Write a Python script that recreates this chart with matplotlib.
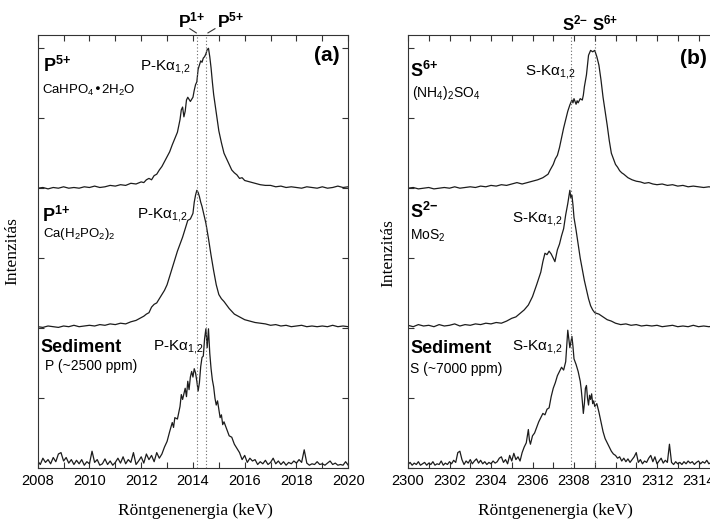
import matplotlib
matplotlib.use("Agg")
import matplotlib.pyplot as plt
from matplotlib.ticker import MultipleLocator

# --- adatok (leolvasva az ábráról) ---
# (a) panel: P-K alfa spektrumok, (energia keV, eltolt intenzitás)
p5_spektrum = [
    (2008.0, 4.00), (2008.2, 4.01), (2008.4, 3.99), (2008.6, 4.01), (2008.8, 4.00),
    (2009.0, 4.02), (2009.2, 4.00), (2009.4, 4.01), (2009.6, 4.00), (2009.8, 4.02),
    (2010.0, 4.01), (2010.2, 4.03), (2010.4, 4.01), (2010.6, 4.02), (2010.8, 4.04),
    (2011.0, 4.03), (2011.2, 4.05), (2011.4, 4.04), (2011.6, 4.07), (2011.8, 4.06),
    (2012.0, 4.09), (2012.1, 4.08), (2012.2, 4.12), (2012.3, 4.14), (2012.4, 4.12),
    (2012.5, 4.18), (2012.6, 4.20), (2012.7, 4.26), (2012.8, 4.31), (2012.9, 4.38),
    (2013.0, 4.45), (2013.1, 4.52), (2013.2, 4.62), (2013.3, 4.71), (2013.4, 4.80),
    (2013.5, 4.98), (2013.55, 5.12), (2013.6, 5.16), (2013.65, 5.02), (2013.7, 5.10),
    (2013.75, 5.26), (2013.8, 5.30), (2013.9, 5.24), (2014.0, 5.30), (2014.05, 5.40),
    (2014.1, 5.48), (2014.15, 5.52), (2014.2, 5.70), (2014.25, 5.76), (2014.3, 5.82),
    (2014.35, 5.80), (2014.4, 5.86), (2014.45, 5.88), (2014.5, 5.92), (2014.55, 5.98),
    (2014.6, 6.00), (2014.65, 5.88), (2014.7, 5.72), (2014.75, 5.52), (2014.8, 5.34),
    (2014.9, 5.08), (2015.0, 4.82), (2015.1, 4.65), (2015.2, 4.50), (2015.3, 4.42),
    (2015.4, 4.34), (2015.5, 4.26), (2015.6, 4.22), (2015.7, 4.19), (2015.8, 4.14),
    (2015.9, 4.15), (2016.0, 4.11), (2016.2, 4.09), (2016.4, 4.07), (2016.6, 4.05),
    (2016.8, 4.04), (2017.0, 4.04), (2017.2, 4.02), (2017.4, 4.03), (2017.6, 4.01),
    (2017.8, 4.02), (2018.0, 4.01), (2018.2, 4.00), (2018.4, 4.02), (2018.6, 4.01),
    (2018.8, 4.00), (2019.0, 4.02), (2019.2, 4.00), (2019.4, 4.01), (2019.6, 4.03),
    (2019.8, 4.01), (2020.0, 4.02),
]

p1_spektrum = [
    (2008.0, 2.02), (2008.2, 2.01), (2008.4, 2.03), (2008.6, 2.02), (2008.8, 2.01),
    (2009.0, 2.03), (2009.2, 2.02), (2009.4, 2.04), (2009.6, 2.02), (2009.8, 2.03),
    (2010.0, 2.04), (2010.2, 2.03), (2010.4, 2.05), (2010.6, 2.04), (2010.8, 2.06),
    (2011.0, 2.05), (2011.2, 2.07), (2011.4, 2.06), (2011.6, 2.09), (2011.8, 2.11),
    (2012.0, 2.15), (2012.1, 2.17), (2012.2, 2.20), (2012.3, 2.22), (2012.4, 2.30),
    (2012.5, 2.34), (2012.6, 2.36), (2012.7, 2.42), (2012.8, 2.48), (2012.9, 2.54),
    (2013.0, 2.62), (2013.1, 2.74), (2013.2, 2.86), (2013.3, 2.98), (2013.4, 3.10),
    (2013.5, 3.20), (2013.6, 3.30), (2013.7, 3.42), (2013.8, 3.54), (2013.9, 3.56),
    (2014.0, 3.64), (2014.05, 3.80), (2014.1, 3.90), (2014.15, 3.97), (2014.2, 3.94),
    (2014.25, 3.88), (2014.3, 3.80), (2014.35, 3.74), (2014.4, 3.66), (2014.5, 3.50),
    (2014.6, 3.28), (2014.7, 3.04), (2014.8, 2.82), (2014.9, 2.62), (2015.0, 2.48),
    (2015.1, 2.42), (2015.2, 2.38), (2015.3, 2.33), (2015.4, 2.28), (2015.5, 2.24),
    (2015.6, 2.20), (2015.8, 2.16), (2016.0, 2.12), (2016.2, 2.10), (2016.4, 2.08),
    (2016.6, 2.07), (2016.8, 2.06), (2017.0, 2.04), (2017.2, 2.05), (2017.4, 2.03),
    (2017.6, 2.04), (2017.8, 2.02), (2018.0, 2.03), (2018.2, 2.04), (2018.4, 2.02),
    (2018.6, 2.03), (2018.8, 2.02), (2019.0, 2.03), (2019.2, 2.02), (2019.4, 2.04),
    (2019.6, 2.02), (2019.8, 2.03), (2020.0, 2.02),
]

p_sediment = [
    (2008.0, 0.10), (2008.1, 0.05), (2008.2, 0.14), (2008.3, 0.08), (2008.4, 0.12),
    (2008.5, 0.06), (2008.6, 0.15), (2008.7, 0.09), (2008.8, 0.20), (2008.9, 0.22),
    (2009.0, 0.10), (2009.1, 0.15), (2009.2, 0.07), (2009.3, 0.12), (2009.4, 0.05),
    (2009.5, 0.11), (2009.6, 0.06), (2009.7, 0.12), (2009.8, 0.04), (2009.9, 0.09),
    (2010.0, 0.06), (2010.1, 0.24), (2010.2, 0.08), (2010.3, 0.12), (2010.4, 0.04),
    (2010.5, 0.06), (2010.6, 0.13), (2010.7, 0.05), (2010.8, 0.10), (2010.9, 0.04),
    (2011.0, 0.08), (2011.1, 0.14), (2011.2, 0.07), (2011.3, 0.16), (2011.4, 0.06),
    (2011.5, 0.12), (2011.6, 0.08), (2011.7, 0.22), (2011.8, 0.05), (2011.9, 0.10),
    (2012.0, 0.16), (2012.1, 0.07), (2012.2, 0.20), (2012.3, 0.12), (2012.4, 0.18),
    (2012.5, 0.09), (2012.6, 0.22), (2012.7, 0.14), (2012.8, 0.20), (2012.9, 0.30),
    (2013.0, 0.38), (2013.1, 0.52), (2013.2, 0.65), (2013.25, 0.58), (2013.3, 0.72),
    (2013.4, 0.70), (2013.5, 0.88), (2013.55, 1.05), (2013.6, 0.98), (2013.7, 1.14),
    (2013.75, 1.02), (2013.8, 1.24), (2013.85, 1.12), (2013.9, 1.30), (2013.95, 1.38),
    (2014.0, 1.30), (2014.05, 1.42), (2014.1, 1.36), (2014.15, 1.24), (2014.2, 1.10),
    (2014.25, 1.22), (2014.3, 1.45), (2014.35, 1.58), (2014.4, 1.60), (2014.45, 1.85),
    (2014.5, 1.99), (2014.55, 1.72), (2014.6, 1.99), (2014.65, 1.64), (2014.7, 1.42),
    (2014.75, 1.26), (2014.8, 1.16), (2014.85, 1.00), (2014.9, 0.90), (2014.95, 0.96),
    (2015.0, 0.84), (2015.05, 0.72), (2015.1, 0.76), (2015.15, 0.62), (2015.2, 0.66),
    (2015.3, 0.56), (2015.4, 0.46), (2015.5, 0.44), (2015.6, 0.34), (2015.7, 0.28),
    (2015.8, 0.22), (2015.9, 0.12), (2016.0, 0.18), (2016.1, 0.08), (2016.2, 0.14),
    (2016.3, 0.10), (2016.4, 0.12), (2016.5, 0.05), (2016.6, 0.09), (2016.7, 0.06),
    (2016.8, 0.11), (2016.9, 0.05), (2017.0, 0.08), (2017.1, 0.14), (2017.2, 0.06),
    (2017.3, 0.10), (2017.4, 0.05), (2017.5, 0.09), (2017.6, 0.04), (2017.7, 0.08),
    (2017.8, 0.06), (2017.9, 0.10), (2018.0, 0.07), (2018.1, 0.12), (2018.2, 0.08),
    (2018.3, 0.26), (2018.4, 0.07), (2018.5, 0.04), (2018.6, 0.06), (2018.7, 0.05),
    (2018.8, 0.09), (2018.9, 0.05), (2019.0, 0.06), (2019.1, 0.04), (2019.2, 0.07),
    (2019.3, 0.10), (2019.4, 0.05), (2019.5, 0.07), (2019.6, 0.04), (2019.7, 0.05),
    (2019.8, 0.04), (2019.9, 0.09), (2020.0, 0.04),
]

# (b) panel: S-K alfa spektrumok
s6_spektrum = [
    (2300.0, 4.00), (2300.25, 4.01), (2300.5, 3.99), (2300.75, 4.00), (2301.0, 4.01),
    (2301.25, 3.99), (2301.5, 4.00), (2301.75, 4.01), (2302.0, 4.00), (2302.25, 4.02),
    (2302.5, 4.00), (2302.75, 4.01), (2303.0, 4.02), (2303.25, 4.01), (2303.5, 4.03),
    (2303.75, 4.02), (2304.0, 4.04), (2304.25, 4.03), (2304.5, 4.05), (2304.75, 4.04),
    (2305.0, 4.06), (2305.25, 4.08), (2305.5, 4.06), (2305.75, 4.08), (2306.0, 4.10),
    (2306.25, 4.12), (2306.5, 4.15), (2306.75, 4.20), (2306.85, 4.26), (2307.0, 4.34),
    (2307.1, 4.42), (2307.2, 4.47), (2307.3, 4.58), (2307.4, 4.72), (2307.5, 4.86),
    (2307.6, 4.98), (2307.7, 5.10), (2307.8, 5.19), (2307.9, 5.26), (2307.95, 5.22),
    (2308.0, 5.28), (2308.1, 5.20), (2308.15, 5.25), (2308.2, 5.22), (2308.3, 5.28),
    (2308.4, 5.26), (2308.45, 5.33), (2308.5, 5.45), (2308.6, 5.62), (2308.7, 5.90),
    (2308.8, 5.97), (2308.9, 5.95), (2309.0, 5.97), (2309.1, 5.88), (2309.2, 5.76),
    (2309.3, 5.55), (2309.4, 5.30), (2309.5, 5.10), (2309.6, 4.90), (2309.7, 4.68),
    (2309.8, 4.50), (2309.9, 4.42), (2310.0, 4.34), (2310.1, 4.30), (2310.2, 4.25),
    (2310.3, 4.22), (2310.4, 4.20), (2310.6, 4.15), (2310.8, 4.12), (2311.0, 4.10),
    (2311.2, 4.09), (2311.4, 4.07), (2311.6, 4.08), (2311.8, 4.06), (2312.0, 4.05),
    (2312.25, 4.06), (2312.5, 4.04), (2312.75, 4.05), (2313.0, 4.03), (2313.25, 4.04),
    (2313.5, 4.02), (2313.75, 4.03), (2314.0, 4.02), (2314.25, 4.01), (2314.5, 4.02),
    (2314.75, 4.01), (2315.0, 4.01),
]

s2_spektrum = [
    (2300.0, 2.04), (2300.25, 2.02), (2300.5, 2.05), (2300.75, 2.03), (2301.0, 2.04),
    (2301.25, 2.02), (2301.5, 2.05), (2301.75, 2.03), (2302.0, 2.04), (2302.25, 2.06),
    (2302.5, 2.03), (2302.75, 2.05), (2303.0, 2.04), (2303.25, 2.06), (2303.5, 2.05),
    (2303.75, 2.07), (2304.0, 2.06), (2304.25, 2.08), (2304.5, 2.07), (2304.75, 2.10),
    (2305.0, 2.14), (2305.2, 2.16), (2305.4, 2.21), (2305.6, 2.26), (2305.8, 2.33),
    (2306.0, 2.45), (2306.2, 2.62), (2306.4, 2.80), (2306.5, 2.95), (2306.6, 3.07),
    (2306.7, 3.05), (2306.8, 3.10), (2306.9, 3.06), (2307.0, 3.00), (2307.08, 2.95),
    (2307.2, 3.12), (2307.3, 3.20), (2307.4, 3.32), (2307.5, 3.42), (2307.6, 3.62),
    (2307.7, 3.78), (2307.8, 3.97), (2307.85, 3.86), (2307.9, 3.90), (2307.95, 3.76),
    (2308.0, 3.58), (2308.1, 3.40), (2308.2, 3.20), (2308.3, 3.00), (2308.4, 2.84),
    (2308.5, 2.68), (2308.6, 2.55), (2308.7, 2.42), (2308.8, 2.32), (2308.9, 2.26),
    (2309.0, 2.22), (2309.2, 2.20), (2309.4, 2.16), (2309.6, 2.12), (2309.8, 2.10),
    (2310.0, 2.07), (2310.25, 2.05), (2310.5, 2.06), (2310.75, 2.04), (2311.0, 2.05),
    (2311.25, 2.03), (2311.5, 2.04), (2311.75, 2.03), (2312.0, 2.04), (2312.25, 2.02),
    (2312.5, 2.03), (2312.75, 2.04), (2313.0, 2.02), (2313.25, 2.03), (2313.5, 2.02),
    (2313.75, 2.04), (2314.0, 2.02), (2314.25, 2.03), (2314.5, 2.02), (2314.75, 2.03),
    (2315.0, 2.02),
]

s_sediment = [
    (2300.0, 0.05), (2300.1, 0.08), (2300.2, 0.04), (2300.3, 0.07), (2300.4, 0.05),
    (2300.5, 0.09), (2300.6, 0.04), (2300.7, 0.06), (2300.8, 0.08), (2300.9, 0.04),
    (2301.0, 0.07), (2301.1, 0.05), (2301.2, 0.09), (2301.3, 0.04), (2301.4, 0.06),
    (2301.5, 0.05), (2301.6, 0.10), (2301.7, 0.04), (2301.8, 0.07), (2301.9, 0.05),
    (2302.0, 0.09), (2302.1, 0.06), (2302.2, 0.11), (2302.3, 0.08), (2302.4, 0.22),
    (2302.5, 0.24), (2302.6, 0.12), (2302.7, 0.05), (2302.8, 0.10), (2302.9, 0.07),
    (2303.0, 0.12), (2303.1, 0.06), (2303.2, 0.10), (2303.3, 0.13), (2303.4, 0.07),
    (2303.5, 0.11), (2303.6, 0.06), (2303.7, 0.09), (2303.8, 0.05), (2303.9, 0.08),
    (2304.0, 0.06), (2304.1, 0.10), (2304.2, 0.07), (2304.3, 0.09), (2304.4, 0.14),
    (2304.5, 0.16), (2304.6, 0.08), (2304.7, 0.12), (2304.8, 0.06), (2304.9, 0.18),
    (2305.0, 0.10), (2305.1, 0.21), (2305.2, 0.12), (2305.3, 0.16), (2305.4, 0.10),
    (2305.5, 0.22), (2305.6, 0.30), (2305.7, 0.36), (2305.8, 0.55), (2305.85, 0.40),
    (2305.9, 0.34), (2306.0, 0.46), (2306.1, 0.50), (2306.2, 0.58), (2306.3, 0.66),
    (2306.4, 0.72), (2306.5, 0.78), (2306.6, 0.76), (2306.7, 0.84), (2306.8, 0.86),
    (2306.9, 1.02), (2307.0, 1.14), (2307.1, 1.22), (2307.2, 1.32), (2307.3, 1.38),
    (2307.4, 1.44), (2307.5, 1.40), (2307.6, 1.52), (2307.7, 1.97), (2307.75, 1.84),
    (2307.8, 1.72), (2307.85, 1.80), (2307.9, 1.88), (2307.95, 1.74), (2308.0, 1.56),
    (2308.1, 1.48), (2308.2, 1.38), (2308.3, 1.24), (2308.35, 1.12), (2308.4, 0.96),
    (2308.45, 0.78), (2308.5, 0.92), (2308.55, 1.14), (2308.6, 1.18), (2308.65, 1.00),
    (2308.7, 0.90), (2308.75, 1.04), (2308.8, 0.98), (2308.85, 1.06), (2308.9, 0.92),
    (2308.95, 0.96), (2309.0, 0.88), (2309.1, 0.92), (2309.2, 0.80), (2309.3, 0.66),
    (2309.4, 0.52), (2309.5, 0.42), (2309.6, 0.36), (2309.7, 0.30), (2309.8, 0.24),
    (2309.9, 0.20), (2310.0, 0.18), (2310.1, 0.14), (2310.2, 0.16), (2310.3, 0.10),
    (2310.4, 0.14), (2310.5, 0.09), (2310.6, 0.13), (2310.7, 0.08), (2310.8, 0.12),
    (2310.9, 0.16), (2311.0, 0.22), (2311.1, 0.08), (2311.2, 0.12), (2311.3, 0.06),
    (2311.4, 0.10), (2311.5, 0.08), (2311.6, 0.14), (2311.7, 0.18), (2311.8, 0.09),
    (2311.9, 0.16), (2312.0, 0.06), (2312.1, 0.10), (2312.2, 0.14), (2312.3, 0.07),
    (2312.4, 0.11), (2312.5, 0.08), (2312.6, 0.34), (2312.7, 0.08), (2312.8, 0.05),
    (2312.9, 0.09), (2313.0, 0.06), (2313.1, 0.08), (2313.2, 0.05), (2313.3, 0.09),
    (2313.4, 0.06), (2313.5, 0.10), (2313.6, 0.07), (2313.7, 0.09), (2313.8, 0.05),
    (2313.9, 0.08), (2314.0, 0.10), (2314.1, 0.06), (2314.2, 0.09), (2314.3, 0.07),
    (2314.4, 0.11), (2314.5, 0.06), (2314.6, 0.08), (2314.7, 0.05), (2314.8, 0.09),
    (2314.9, 0.06), (2315.0, 0.07),
]

# referencia-energiák (pontozott függőleges vonalak)
p_vonalak = [2014.15, 2014.51]
s_vonalak = [2307.86, 2309.0]

# --- megjelenés ---
plt.rcParams["font.family"] = ["Liberation Sans", "DejaVu Sans"]
plt.rcParams["mathtext.default"] = "regular"

VONAL = "#1c1c1c"
SERIF = "Liberation Serif"
KALFA = r"K$\alpha_{1{,}2}$"

fig = plt.figure(figsize=(7.1, 5.24), dpi=100)
# a jobb oldali panel kilóg a képből, mint az eredetin
ax_p = fig.add_axes([37.7 / 710, 56 / 524, 310.5 / 710, 433 / 524])
ax_s = fig.add_axes([408 / 710, 56 / 524, 311.25 / 710, 433 / 524])


def rajzol(ax, spektrumok, vonalak, xmin, xmax):
    for spektrum in spektrumok:
        e, i = zip(*spektrum)
        ax.plot(e, i, color=VONAL, lw=0.9)
    for v in vonalak:
        ax.axvline(v, color="#6a6a6a", lw=0.8, ls=(0, (1, 2)))
    ax.set_xlim(xmin, xmax)
    ax.set_ylim(0, 6.19)
    ax.xaxis.set_major_locator(MultipleLocator(2))
    ax.xaxis.set_minor_locator(MultipleLocator(1))
    ax.set_yticks([0, 1, 2, 3, 4, 5, 6])
    ax.set_yticklabels([])
    ax.tick_params(which="both", direction="in", top=True, right=True,
                   length=4, width=0.8, color="#333333")
    ax.tick_params(axis="x", labelsize=10.5, pad=4)
    ax.xaxis.get_major_formatter().set_useOffset(False)
    for sp in ax.spines.values():
        sp.set_linewidth(0.8)
        sp.set_color("#333333")


rajzol(ax_p, [p5_spektrum, p1_spektrum, p_sediment], p_vonalak, 2008, 2020)
rajzol(ax_s, [s6_spektrum, s2_spektrum, s_sediment], s_vonalak, 2300, 2315)

# --- feliratok, (a) panel ---
ax_p.text(2008.2, 5.66, "P$^{5{+}}$", fontsize=13, fontweight="bold")
ax_p.text(2008.17, 5.35, "CaHPO$_4$\u20222H$_2$O", fontsize=9.5)
ax_p.text(2011.95, 5.69, "P-" + KALFA, fontsize=11)
ax_p.text(2019.65, 5.89, "(a)", fontsize=15, fontweight="bold", ha="right", va="center")

ax_p.text(2008.17, 3.51, "P$^{1{+}}$", fontsize=13, fontweight="bold")
ax_p.text(2008.2, 3.30, "Ca(H$_2$PO$_2$)$_2$", fontsize=9.5)
ax_p.text(2011.83, 3.57, "P-" + KALFA, fontsize=11)

ax_p.text(2008.1, 1.66, "Sediment", fontsize=13, fontweight="bold")
ax_p.text(2008.28, 1.40, "P (~2500 ppm)", fontsize=10)
ax_p.text(2012.45, 1.69, "P-" + KALFA, fontsize=11)

ax_p.text(2013.42, 6.3, "P$^{1{+}}$", fontsize=12.5, fontweight="bold", clip_on=False)
ax_p.text(2014.93, 6.3, "P$^{5{+}}$", fontsize=12.5, fontweight="bold", clip_on=False)
ax_p.plot([2013.88, 2014.13], [6.28, 6.22], color="#333333", lw=0.8, clip_on=False)
ax_p.plot([2014.85, 2014.58], [6.28, 6.22], color="#333333", lw=0.8, clip_on=False)

# --- feliratok, (b) panel ---
ax_s.text(2300.1, 5.59, "S$^{6{+}}$", fontsize=13, fontweight="bold")
ax_s.text(2300.19, 5.30, "(NH$_4$)$_2$SO$_4$", fontsize=10)
ax_s.text(2305.64, 5.61, "S-" + KALFA, fontsize=11)
ax_s.text(2313.11, 5.86, "(b)", fontsize=15, fontweight="bold", va="center")

ax_s.text(2300.1, 3.57, "S$^{2{-}}$", fontsize=13, fontweight="bold")
ax_s.text(2300.1, 3.26, "MoS$_2$", fontsize=10)
ax_s.text(2305.01, 3.51, "S-" + KALFA, fontsize=11)

ax_s.text(2300.1, 1.64, "Sediment", fontsize=13, fontweight="bold")
ax_s.text(2300.1, 1.36, "S (~7000 ppm)", fontsize=10)
ax_s.text(2305.01, 1.69, "S-" + KALFA, fontsize=11)

ax_s.text(2307.42, 6.26, "S$^{2{-}}$", fontsize=12, fontweight="bold", clip_on=False)
ax_s.text(2308.85, 6.26, "S$^{6{+}}$", fontsize=12, fontweight="bold", clip_on=False)

# tengelyfeliratok (serif betűvel, mint az eredetin)
fig.text(12 / 710, 1 - 251 / 524, "Intenzitás", family=SERIF, fontsize=12.5,
         rotation=90, ha="center", va="center")
fig.text(388 / 710, 1 - 253 / 524, "Intenzitás", family=SERIF, fontsize=12.5,
         rotation=90, ha="center", va="center")
fig.text(195 / 710, 1 - 511 / 524, "Röntgenenergia (keV)", family=SERIF,
         fontsize=12.5, ha="center", va="center")
fig.text(555 / 710, 1 - 511 / 524, "Röntgenenergia (keV)", family=SERIF,
         fontsize=12.5, ha="center", va="center")

fig.savefig("out.png", dpi=100)
